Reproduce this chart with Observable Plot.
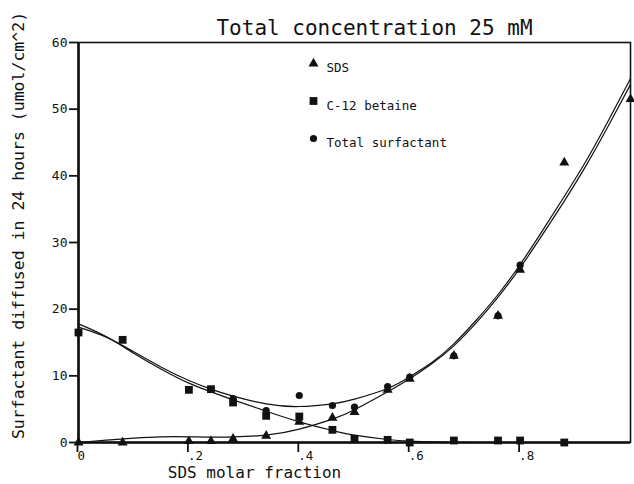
<!DOCTYPE html>
<html><head><meta charset="utf-8">
<script src="https://cdn.jsdelivr.net/npm/d3@7"></script>
<script src="https://cdn.jsdelivr.net/npm/@observablehq/plot@0.6"></script>
<style>body{margin:0;background:#fff} svg{display:block}</style>
</head><body><div id="chart"></div>
<script>
// Measured points (SDS molar fraction vs surfactant diffused, umol/cm^2)
const fraction = [0, .08, .2, .24, .28, .34, .4, .46, .5, .56, .6, .68, .76, .8, .88, 1.0];
const sds      = [0, 0, 0.2, 0.2, 0.55, 1.0, 3.1, 3.7, 4.55, 7.9, 9.55, 13.0, 19.0, 25.9, 42.0, 51.5];
const betaine  = [16.5, 15.4, 7.9, 8.0, 6.0, 4.0, 3.9, 1.9, 0.55, 0.4, 0.0, 0.3, 0.3, 0.3, 0.0, null];
const total    = [16.5, null, null, null, 6.6, 4.8, 7.05, 5.55, 5.3, 8.4, 9.8, 13.0, 19.0, 26.6, null, null];

// Fitted curves
const curveX     = [0, .05, .1, .15, .2, .24, .28, .34, .4, .46, .5, .56, .6, .64, .68, .72, .76, .8, .84, .88, .92, .96, 1.0];
const sdsFit     = [0, .35, .65, .85, .85, .8, .85, 1.1, 2.0, 3.5, 4.9, 7.6, 9.55, 11.8, 14.5, 17.9, 21.8, 26.2, 31.1, 36.2, 41.6, 47.5, 53.7];
const betaineFit = [17.8, 15.9, 13.4, 11.0, 8.9, 7.6, 6.4, 4.7, 3.1, 1.8, 1.1, 0.45, 0.2, 0.08, 0.02, 0, 0, 0, 0, 0, 0, 0, 0];
const totalFit   = [17.3, 15.8, 13.6, 11.3, 9.3, 8.0, 6.95, 5.8, 5.4, 5.8, 6.5, 8.1, 9.85, 12.0, 14.8, 18.3, 22.2, 26.7, 31.7, 36.9, 42.3, 48.3, 54.6];

const xTicks = [0, .2, .4, .6, .8];
const xTickLabels = ["0", ".2", ".4", ".6", ".8"];
const yTicks = [0, 10, 20, 30, 40, 50, 60];

const legendNames = ["SDS", "C-12 betaine", "Total surfactant"];
const legendSymbols = ["triangle", "square", "circle"];

const titleText = "Total concentration 25 mM";
const xLabel = "SDS molar fraction";
const yLabel = "Surfactant diffused in 24 hours (umol/cm^2)";

const FONT = "'DejaVu Sans Mono', monospace";
const INK = "#111";

const rows = fraction.map((f, i) => ({f, sds: sds[i], bet: betaine[i], tot: total[i]}));
const fits = curveX.map((f, i) => ({f, sds: sdsFit[i], bet: betaineFit[i], tot: totalFit[i]}));
const xLabelMap = new Map(xTicks.map((t, i) => [t, xTickLabels[i]]));
const symR = {triangle: 3.7, square: 4.4, circle: 3.6};

const legendMarks = legendNames.flatMap((name, i) => [
  Plot.dot([name], {frameAnchor: "top-left", dx: 235, dy: 21 + i * 37.5, symbol: legendSymbols[i], r: symR[legendSymbols[i]], fill: INK, stroke: "none"}),
  Plot.text([name], {frameAnchor: "top-left", dx: 248, dy: 21 + i * 37.5, textAnchor: "start", fontSize: 12.5, fontFamily: FONT, fill: INK})
]);

const chart = Plot.plot({
  width: 634, height: 484,
  marginLeft: 78, marginRight: 4, marginTop: 42, marginBottom: 42,
  style: {fontFamily: FONT, fontSize: "13px", color: INK, background: "white"},
  x: {domain: [0, 1]},
  y: {domain: [0, 60]},
  marks: [
    Plot.frame({stroke: INK, strokeWidth: 1.6}),
    Plot.axisY(yTicks, {tickSize: 9, tickPadding: 2, label: null, strokeWidth: 1.8, fontSize: 13, fill: INK}),
    Plot.axisX(xTicks, {tickSize: 10, tickPadding: -1, label: null, strokeWidth: 1.8, fontSize: 12.5, textAnchor: "start", dx: -1, tickFormat: d => xLabelMap.get(d), fill: INK}),
    Plot.ruleX([0], {stroke: INK, strokeWidth: 2.6}),
    Plot.ruleY([0], {stroke: INK, strokeWidth: 2.6}),
    Plot.line(fits, {x: "f", y: "bet", curve: "natural", stroke: INK, strokeWidth: 1.2}),
    Plot.line(fits, {x: "f", y: "tot", curve: "natural", stroke: INK, strokeWidth: 1.2}),
    Plot.line(fits, {x: "f", y: "sds", curve: "natural", stroke: INK, strokeWidth: 1.2}),
    Plot.dot(rows.filter(d => d.sds != null), {x: "f", y: "sds", symbol: "triangle", r: symR.triangle, fill: INK, stroke: "none"}),
    Plot.dot(rows.filter(d => d.bet != null), {x: "f", y: "bet", symbol: "square", r: symR.square, fill: INK, stroke: "none"}),
    Plot.dot(rows.filter(d => d.tot != null), {x: "f", y: "tot", symbol: "circle", r: symR.circle, fill: INK, stroke: "none"}),
    ...legendMarks,
    Plot.text([titleText], {frameAnchor: "top", dx: 20, dy: -22, fontSize: 21, fontFamily: FONT, fill: INK}),
    Plot.text([xLabel], {frameAnchor: "bottom", dx: -100, dy: 35, fontSize: 16, fontFamily: FONT, fill: INK}),
    Plot.text([yLabel], {frameAnchor: "left", textAnchor: "middle", rotate: -90, dx: -60, dy: -17, fontSize: 16.5, fontFamily: FONT, fill: INK})
  ]
});
document.getElementById("chart").appendChild(chart);
</script>
</body></html>
